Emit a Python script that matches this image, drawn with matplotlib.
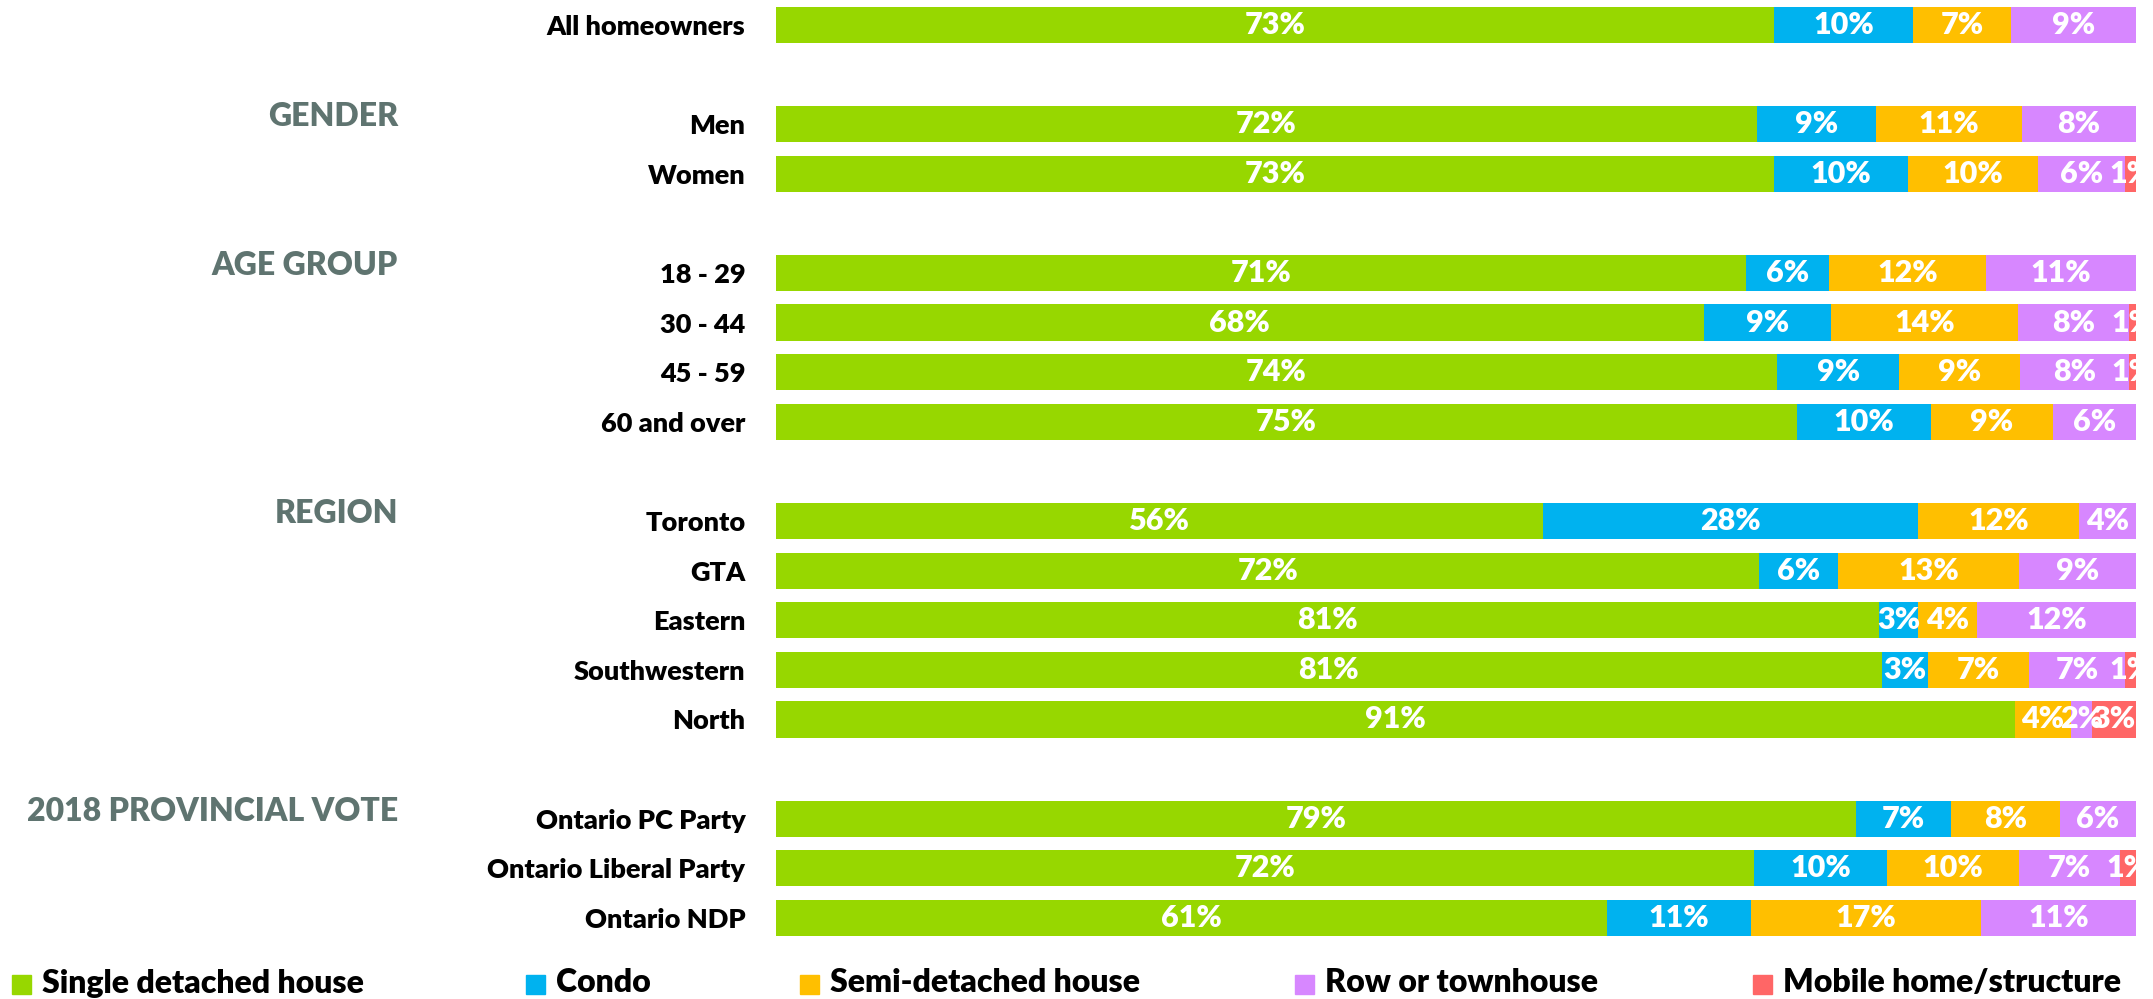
import matplotlib
matplotlib.use("Agg")
import matplotlib.pyplot as plt
from matplotlib.patches import Rectangle
from matplotlib.transforms import blended_transform_factory

plt.rcParams['font.family'] = ['Lato', 'DejaVu Sans']

# groups of rows: (header, row names)
groups = [
    ("", ["All homeowners"]),
    ("GENDER", ["Men", "Women"]),
    ("AGE GROUP", ["18 - 29", "30 - 44", "45 - 59", "60 and over"]),
    ("REGION", ["Toronto", "GTA", "Eastern", "Southwestern", "North"]),
    ("2018 PROVINCIAL VOTE", ["Ontario PC Party", "Ontario Liberal Party", "Ontario NDP"]),
]

series_names = ["Single detached house", "Condo", "Semi-detached house",
                "Row or townhouse", "Mobile home/structure"]
series_colors = ["#97d700", "#00b2ef", "#ffbf00", "#d787ff", "#ff6666"]

single = [73.4, 72.1, 73.4, 71.3, 68.2, 73.6, 75.1, 56.4, 72.3, 81.1, 81.3, 91.1, 79.4, 71.9, 61.1]
condo  = [10.2, 8.8, 9.8, 6.1, 9.4, 9.0, 9.8, 27.6, 5.8, 2.9, 3.4, 0.0, 7.0, 9.8, 10.6]
semi   = [7.2, 10.7, 9.6, 11.6, 13.7, 8.9, 9.0, 11.8, 13.3, 4.3, 7.4, 4.1, 8.0, 9.7, 16.9]
row    = [9.2, 8.4, 6.4, 11.0, 8.2, 8.0, 6.1, 4.2, 8.6, 11.7, 7.1, 1.6, 5.6, 7.4, 11.4]
mobile = [0.0, 0.0, 0.8, 0.0, 0.6, 0.6, 0.0, 0.0, 0.0, 0.0, 0.8, 3.2, 0.0, 1.2, 0.0]

series = [single, condo, semi, row, mobile]

# y positions with a blank row between groups
labels, ypos, headers = [], [], []
y = 0
for head, names in groups:
    if head:
        headers.append((head, y))
    for n in names:
        labels.append(n)
        ypos.append(y)
        y += 1
    y += 1

fig = plt.figure(figsize=(21.53, 9.99), dpi=100)
ax = fig.add_axes([776 / 2153, 0.0563, 1360 / 2153, 1 - 0.0563])

left = [0.0] * len(labels)
for vals, color in zip(series, series_colors):
    ax.barh(ypos, vals, left=left, height=0.73, color=color, edgecolor='none')
    for yy, l, v in zip(ypos, left, vals):
        if v > 0:
            ax.text(l + v / 2, yy, f"{v:.0f}%", ha='center', va='center',
                    color='white', fontsize=22, fontweight='heavy', clip_on=True)
    left = [a + b for a, b in zip(left, vals)]

ax.set_xlim(0, 100)
ax.set_ylim(ypos[-1] + 0.5, -0.5)
ax.set_yticks(ypos)
ax.set_yticklabels(labels, fontsize=19.5, fontweight='heavy', color='black')
ax.tick_params(axis='y', length=0, pad=22)
ax.set_xticks([])
for s in ax.spines.values():
    s.set_visible(False)

trans = blended_transform_factory(fig.transFigure, ax.transData)
for head, yy in headers:
    fig.text(398 / 2153, yy - 0.15, head, transform=trans, ha='right', va='center',
             fontsize=23, fontweight='heavy', color='#5f7470')

# legend along the bottom
leg_sq = [12, 526, 800, 1295, 1753]
for x, name, color in zip(leg_sq, series_names, series_colors):
    fig.patches.append(Rectangle((x / 2153, (999 - 994) / 999), 19 / 2153, 19 / 999,
                                 transform=fig.transFigure, color=color))
    fig.text((x + 30) / 2153, (999 - 983) / 999, name, ha='left', va='center',
             fontsize=23, fontweight='heavy', color='black')

fig.savefig("out.png", dpi=100)
